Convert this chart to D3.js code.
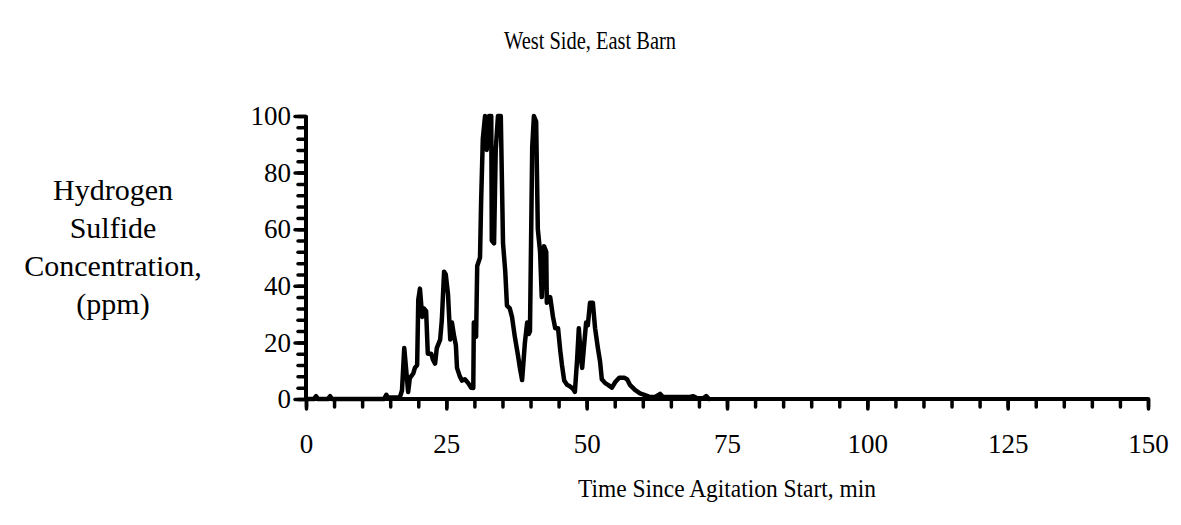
<!DOCTYPE html>
<html><head><meta charset="utf-8">
<script src="https://cdn.jsdelivr.net/npm/d3@7"></script>
<style>
body{margin:0;background:#fff}
text{font-family:"Liberation Serif","Times New Roman",serif;fill:#000}
</style>
</head><body>
<svg id="c" width="1181" height="525"></svg>
<script>
// ---- data ----
const times = [0,1.4,1.8,2.1,3.9,4.3,4.6,13.9,14.3,14.6,16.7,17.1,17.5,18.2,18.5,19.1,19.4,19.8,20.0,20.3,20.7,21.0,21.4,21.7,22.3,22.6,23.0,23.3,23.9,24.2,24.6,24.9,25.3,25.7,26.0,26.4,26.7,26.9,27.4,27.8,28.3,28.9,29.4,29.8,29.9,30.3,30.5,31.0,31.2,31.5,31.9,32.2,32.6,33.0,33.1,33.5,33.8,34.2,34.7,35.1,35.5,35.8,36.3,36.7,37.2,37.8,38.1,38.5,38.7,39.0,39.4,39.7,39.9,40.3,40.6,41.0,41.3,41.7,42.0,42.4,42.8,42.9,43.5,44.0,44.4,44.9,45.3,45.6,46.0,46.5,47.0,47.6,47.9,48.3,48.6,49.0,49.2,49.5,49.9,50.2,50.6,51.1,51.5,52.0,52.4,52.7,53.3,53.8,54.5,55.1,55.8,56.7,57.2,57.7,58.6,59.5,60.4,61.3,62.2,63.1,63.6,68.4,69.0,69.7,70.8,71.3,71.8];
const values = [0,0,1,0,0,1,0,0,1.5,0.5,0.5,3,18,2.5,7.4,9,11,12,35,39,29,32,31,16,16,14,12.5,18,21,28,45,44,37,21,27,22,19,11,8,6.5,7,5.6,4,3.9,27,22,47,50,70,92,100,88,100,100,56,55,88,100,100,55,45,33,32,29,22,15,11,6.7,12,20,27,23,24,89,100,98,60,52,36,54,52,34,36,29,25,25,17,12,6.5,5,4.5,3.5,2.5,14,25,14,11,18,27,26,34,34,25,18,13,7,5.6,5,4,6,7.5,7.5,7,5,3.2,2,1.4,0.7,0.7,1.8,0.7,0.7,1,0.3,0.3,1,0];
const xMajorTicks = [0,25,50,75,100,125,150];
const yMajorTicks = [0,20,40,60,80,100];
const xMinorStep = 5;
const yMinorStep = 4;
const chartTitle = "West Side, East Barn";
const xTitle = "Time Since Agitation Start, min";
const yTitleLines = ["Hydrogen","Sulfide","Concentration,","(ppm)"];

// ---- layout ----
const svg = d3.select("#c");
const x = d3.scaleLinear().domain([0,150]).range([306,1148]);
const y = d3.scaleLinear().domain([0,100]).range([399,116]);
const data = times.map((t,i)=>({t, v: values[i]}));

// title (slightly condensed as in the reference)
svg.append("text").attr("x",590).attr("y",49).attr("text-anchor","middle")
  .attr("textLength",172).attr("lengthAdjust","spacingAndGlyphs")
  .style("font-size","25px").text(chartTitle);

// y-axis title
const yt = svg.append("text").attr("text-anchor","middle").style("font-size","30px");
yTitleLines.forEach((l,i)=>{
  yt.append("tspan").attr("x",113).attr("y",200 + i*38).text(l);
});

// x-axis title
svg.append("text").attr("x",727).attr("y",497).attr("text-anchor","middle")
  .attr("textLength",298).attr("lengthAdjust","spacingAndGlyphs")
  .style("font-size","25px").text(xTitle);

// ticks
const xMinor = d3.range(0,150+0.001,xMinorStep);
const yMinor = d3.range(0,100+0.001,yMinorStep);
const gx = svg.append("g").attr("transform",`translate(0,${y(0)})`);
gx.call(d3.axisBottom(x).tickValues(xMinor).tickSize(8).tickFormat(""));
gx.append("g").call(d3.axisBottom(x).tickValues(xMajorTicks).tickSize(10).tickPadding(25).tickFormat(d3.format("d")));
gx.selectAll("path.domain").remove();
gx.selectAll("line").attr("stroke","#000").attr("stroke-width",3.5).attr("stroke-linecap","round");
gx.selectAll("text").style("font-size","27px").style("font-family","'Liberation Serif',serif").attr("fill","#000");

const gy = svg.append("g").attr("transform",`translate(${x(0)},0)`);
gy.call(d3.axisLeft(y).tickValues(yMinor).tickSize(8).tickFormat(""));
gy.append("g").call(d3.axisLeft(y).tickValues(yMajorTicks).tickSize(11).tickPadding(4).tickFormat(d3.format("d")));
gy.selectAll("path.domain").remove();
gy.selectAll("line").attr("stroke","#000").attr("stroke-width",3.5).attr("stroke-linecap","round");
gy.selectAll("text").style("font-size","27px").style("font-family","'Liberation Serif',serif").attr("fill","#000");

// axis lines
svg.append("line").attr("x1",x(0)).attr("x2",x(150)).attr("y1",y(0)).attr("y2",y(0))
  .attr("stroke","#000").attr("stroke-width",4);
svg.append("line").attr("x1",x(0)).attr("x2",x(0)).attr("y1",y(0)).attr("y2",y(100))
  .attr("stroke","#000").attr("stroke-width",4);

// data line
svg.append("path").datum(data)
  .attr("d", d3.line().x(d=>x(d.t)).y(d=>y(d.v)))
  .attr("fill","none").attr("stroke","#000").attr("stroke-width",4.5)
  .attr("stroke-linejoin","round").attr("stroke-linecap","round");
</script>
</body></html>
